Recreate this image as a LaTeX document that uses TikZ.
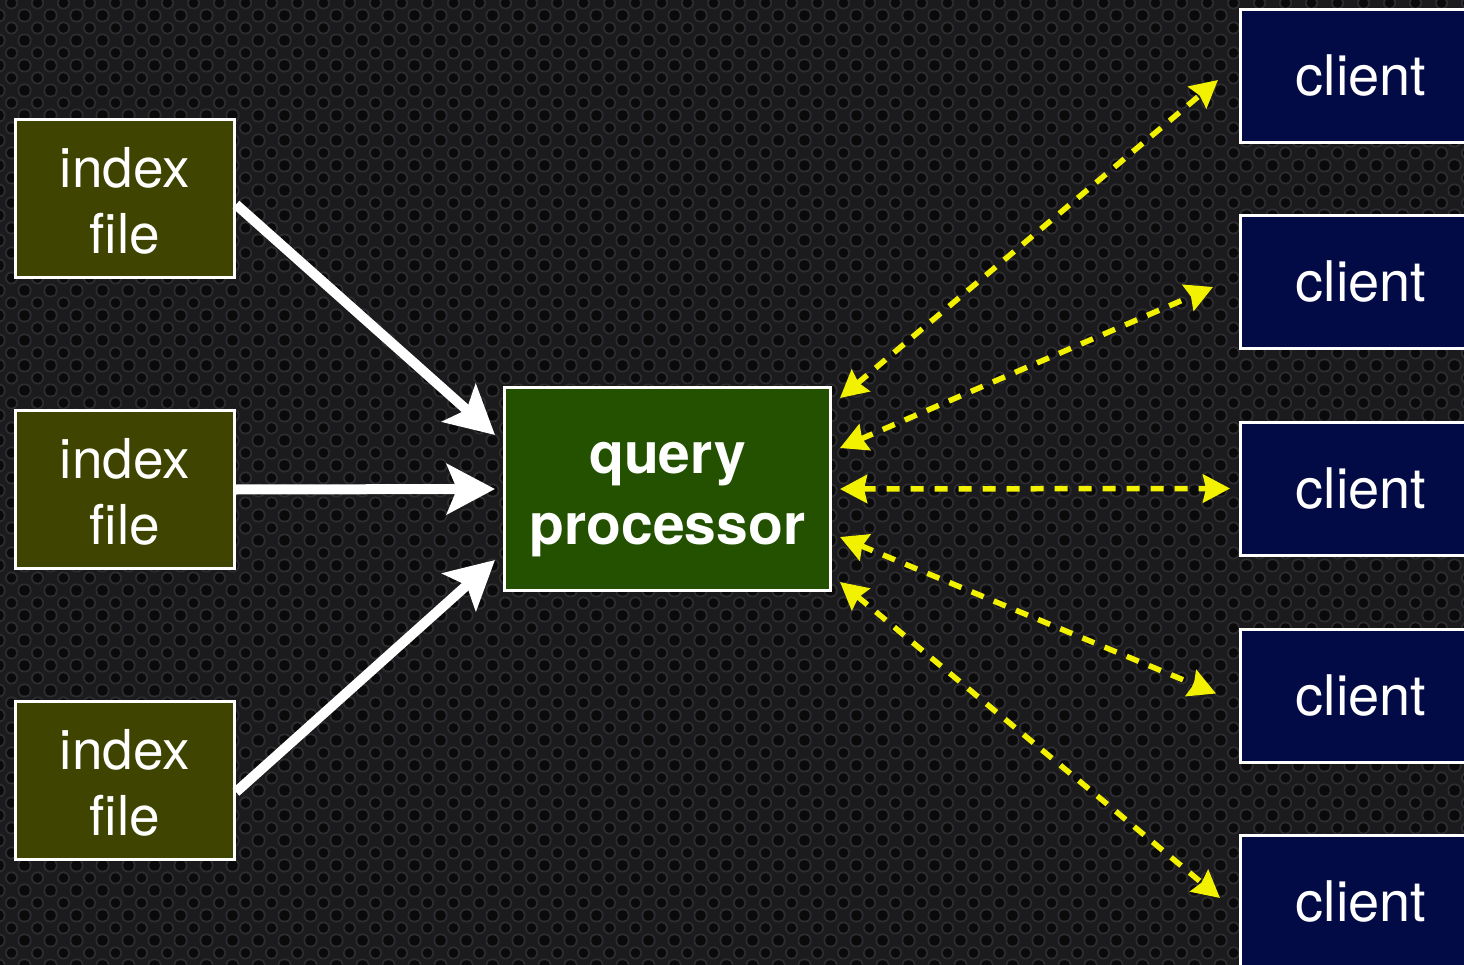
\documentclass[tikz,border=0pt]{standalone}
\usepackage{fontspec}
\setmainfont{TeX Gyre Heros}
\usetikzlibrary{arrows.meta,calc,patterns}
\pgfdeclarepatternformonly{rings}{\pgfpointorigin}{\pgfpoint{26pt}{25pt}}{\pgfpoint{26pt}{25pt}}{%
  \pgfpathcircle{\pgfpoint{0pt}{0pt}}{6.8pt}%
  \pgfpathcircle{\pgfpoint{26pt}{0pt}}{6.8pt}%
  \pgfpathcircle{\pgfpoint{0pt}{25pt}}{6.8pt}%
  \pgfpathcircle{\pgfpoint{26pt}{25pt}}{6.8pt}%
  \pgfpathcircle{\pgfpoint{13pt}{12.5pt}}{6.8pt}%
  \pgfusepath{fill}}
\pgfdeclarepatternformonly{holes}{\pgfpointorigin}{\pgfpoint{26pt}{25pt}}{\pgfpoint{26pt}{25pt}}{%
  \pgfpathcircle{\pgfpoint{0pt}{0pt}}{5pt}%
  \pgfpathcircle{\pgfpoint{26pt}{0pt}}{5pt}%
  \pgfpathcircle{\pgfpoint{0pt}{25pt}}{5pt}%
  \pgfpathcircle{\pgfpoint{26pt}{25pt}}{5pt}%
  \pgfpathcircle{\pgfpoint{13pt}{12.5pt}}{5pt}%
  \pgfusepath{fill}}
\definecolor{bg}{HTML}{1B1B1D}
\definecolor{ring}{HTML}{2D2D31}
\definecolor{hole}{HTML}{0B0A0B}
\definecolor{olivebox}{HTML}{3F4400}
\definecolor{qgreen}{HTML}{235100}
\definecolor{navybox}{HTML}{020B45}
\definecolor{yel}{HTML}{F2F200}
\tikzset{
  box/.style={draw=white, line width=3pt, align=center, inner sep=0pt, text=white},
  idx/.style={box, fill=olivebox, minimum width=219pt, minimum height=158pt, font=\fontsize{55}{66}\selectfont},
  qbox/.style={box, fill=qgreen, minimum width=326pt, minimum height=203pt, font=\fontsize{57}{71}\selectfont\bfseries},
  cbox/.style={box, fill=navybox, minimum width=241pt, minimum height=133pt, font=\fontsize{56}{66}\selectfont},
  warrow/.style={draw=white, line width=10pt, -{Stealth[length=48pt,width=50pt,inset=10pt]}},
  yarrow/.style={draw=yel, line width=5.5pt, dash pattern=on 13pt off 11pt,
     {Stealth[length=27pt,width=28pt,inset=3pt]}-{Stealth[length=27pt,width=28pt,inset=3pt]}}
}
\begin{document}
\begin{tikzpicture}[x=1pt,y=-1pt]
\useasboundingbox (0,0) rectangle (1464,965);
\clip (0,0) rectangle (1464,965);
\fill[bg] (0,0) rectangle (1464,965);
\fill[pattern=rings, pattern color=ring] (0,0) rectangle (1464,965);
\fill[pattern=holes, pattern color=hole] (0,0) rectangle (1464,965);

\node[idx] (i1) at (125,198.5) {\rule{0pt}{45pt}index\\file};
\node[idx] (i2) at (125,489.5) {\rule{0pt}{45pt}index\\file};
\node[idx] (i3) at (125,780) {\rule{0pt}{45pt}index\\file};

\node[qbox] (qp) at (667.5,489) {\rule{0pt}{52pt}query\\processor};

\node[cbox] (c1) at (1361,76) {client};
\node[cbox] (c2) at (1361,282) {client};
\node[cbox] (c3) at (1361,488.5) {client};
\node[cbox] (c4) at (1361,695.5) {client};
\node[cbox] (c5) at (1361,902) {client};

\draw[warrow] ($(i1.east)+(0,6)$) -- ($(qp.west)+(-8,-54)$);
\draw[warrow] (i2.east) -- ($(qp.west)+(-8,0)$);
\draw[warrow] ($(i3.east)+(0,12)$) -- ($(qp.west)+(-8,71)$);

\draw[yarrow] ($(qp.east)+(8,-91)$) -- ($(c1.west)+(-21,4)$);
\draw[yarrow] ($(qp.east)+(8,-41)$) -- ($(c2.west)+(-26,5)$);
\draw[yarrow] ($(qp.east)+(8,0)$) -- ($(c3.west)+(-9,0)$);
\draw[yarrow] ($(qp.east)+(8,48)$) -- ($(c4.west)+(-23,-2)$);
\draw[yarrow] ($(qp.east)+(8,93)$) -- ($(c5.west)+(-19,-4)$);
\end{tikzpicture}
\end{document}
